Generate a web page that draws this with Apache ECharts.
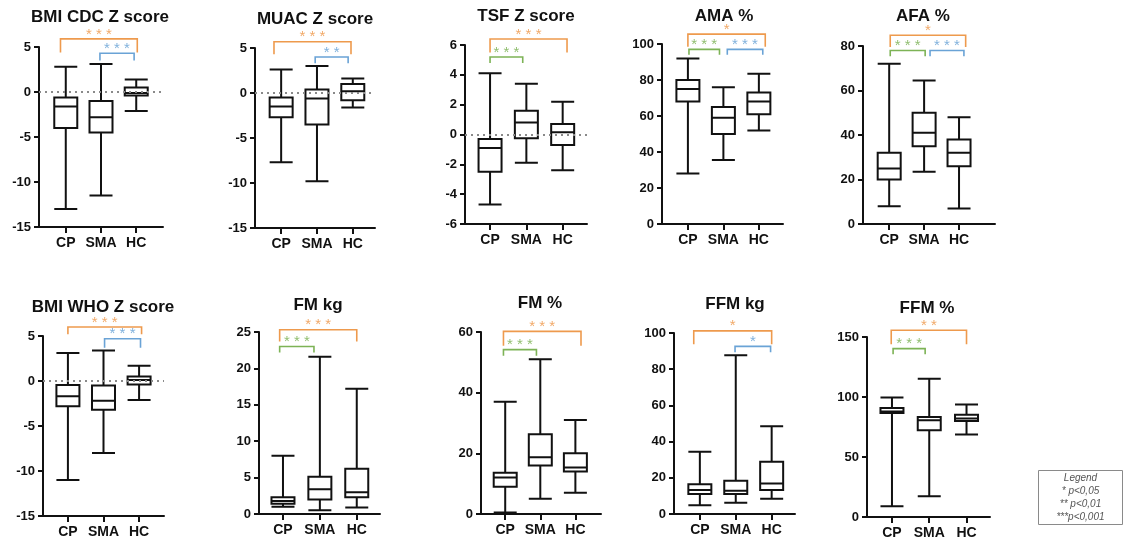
<!DOCTYPE html>
<html>
<head>
<meta charset="utf-8">
<script src="https://cdn.jsdelivr.net/npm/echarts@6/dist/echarts.min.js"></script>
<style>
html,body{margin:0;padding:0;background:#fff;}
#chart{width:1126px;height:541px;}
</style>
</head>
<body>
<div id="chart"></div>
<script>
// ---------- DATA ----------
const categories = ['CP', 'SMA', 'HC'];
const panelTitles = ['BMI CDC Z score', 'MUAC Z score', 'TSF Z score', 'AMA %', 'AFA %',
                     'BMI WHO Z score', 'FM kg', 'FM %', 'FFM kg', 'FFM %'];

// box statistics per group (CP, SMA, HC): [min, Q1, median, Q3, max]
const bmiCdc = [[-13.0, -4.0, -1.6, -0.6, 2.8], [-11.5, -4.5, -2.8, -1.0, 3.1], [-2.1, -0.4, -0.1, 0.5, 1.4]];
const muac   = [[-7.7, -2.7, -1.5, -0.5, 2.6], [-9.8, -3.5, -0.6, 0.4, 3.0], [-1.6, -0.8, 0.2, 1.0, 1.6]];
const tsf    = [[-4.7, -2.5, -0.9, -0.3, 4.1], [-1.9, -0.25, 0.8, 1.6, 3.4], [-2.4, -0.7, 0.15, 0.7, 2.2]];
const ama    = [[28, 68, 75, 80, 92], [35.5, 50, 59, 65, 76], [52, 61, 68, 73, 83.5]];
const afa    = [[8, 20, 25, 32, 72], [23.5, 35, 41, 50, 64.5], [7, 26, 32, 38, 48]];
const bmiWho = [[-11.0, -2.8, -1.7, -0.45, 3.1], [-8.0, -3.2, -2.2, -0.5, 3.4], [-2.1, -0.4, 0.1, 0.5, 1.7]];
const fmKg   = [[1.0, 1.4, 1.8, 2.3, 8.0], [0.5, 2.0, 3.4, 5.1, 21.6], [0.9, 2.3, 3.0, 6.2, 17.2]];
const fmPct  = [[0.5, 9.0, 12.0, 13.6, 37], [5, 16, 18.7, 26.3, 51], [7, 14, 15.3, 20, 31]];
const ffmKg  = [[4.8, 11.0, 13.2, 16.4, 34.4], [6.2, 11.0, 12.9, 18.4, 87.7], [8.4, 13.2, 16.9, 28.8, 48.5]];
const ffmPct = [[9, 86.7, 88, 90.8, 99.5], [17.3, 72.3, 80.6, 83.3, 115.3], [68.7, 80, 82, 85.3, 93.7]];
const panelData = [bmiCdc, muac, tsf, ama, afa, bmiWho, fmKg, fmPct, ffmKg, ffmPct];

// y-axis scales per panel: [min, max, interval]
const yScales = [[-15, 5, 5], [-15, 5, 5], [-6, 6, 2], [0, 100, 20], [0, 80, 20],
                 [-15, 5, 5], [0, 25, 5], [0, 60, 20], [0, 100, 20], [0, 150, 50]];
// panels with the dotted reference line at zero
const zeroLinePanels = [0, 1, 2, 5];

// significance comparisons per panel: [groupA, groupB, stars]
const significance = [
  [[0, 2, '***'], [1, 2, '***']],
  [[0, 2, '***'], [1, 2, '**']],
  [[0, 2, '***'], [0, 1, '***']],
  [[0, 2, '*'], [0, 1, '***'], [1, 2, '***']],
  [[0, 2, '*'], [0, 1, '***'], [1, 2, '***']],
  [[0, 2, '***'], [1, 2, '***']],
  [[0, 2, '***'], [0, 1, '***']],
  [[0, 2, '***'], [0, 1, '***']],
  [[0, 2, '*'], [1, 2, '*']],
  [[0, 2, '**'], [0, 1, '***']]
];
const legendLines = ['Legend', '* p<0,05', '** p<0,01', '***p<0,001'];

// ---------- LAYOUT ----------
// grid: [left, top, width, height, xMin, xMax]
const gridLayout = [
  [39, 47, 124, 180, -0.76, 2.76],
  [255, 48, 120, 180, -0.73, 2.62],
  [465, 45, 122, 179, -0.69, 2.67],
  [662, 44, 121, 180, -0.73, 2.68],
  [863, 46, 132, 178, -0.75, 3.03],
  [43, 336, 121, 180, -0.70, 2.70],
  [259, 332, 121, 182, -0.65, 2.63],
  [481, 332, 120, 182, -0.69, 2.73],
  [674, 333, 121, 181, -0.72, 2.65],
  [867, 337, 123, 180, -0.67, 2.63]
];
const titlePos = [[100, 17], [315, 19], [526, 16], [724, 16], [923, 16],
                  [103, 307], [318, 305], [540, 303], [735, 304], [927, 308]];
// bracket geometry per panel, same order as significance: [xFrom, xTo, yTop, yLeg] (axis units)
const bracketLayout = [
  [[-0.15, 2.03, 5.9, 4.4], [0.97, 1.94, 4.3, 3.5]],
  [[-0.2, 1.95, 5.7, 4.3], [0.95, 1.87, 4.0, 3.3]],
  [[0, 2.12, 6.4, 5.5], [0, 0.9, 5.2, 4.8]],
  [[0, 2.18, 105.5, 98.5], [0.03, 0.89, 97, 94], [1.11, 2.11, 97, 94]],
  [[0.03, 2.19, 84.8, 79.6], [0.03, 1.03, 78, 75.4], [1.17, 2.14, 78, 75.4]],
  [[0, 2.07, 6.0, 5.2], [1.03, 2.04, 4.7, 3.7]],
  [[-0.09, 2.0, 25.3, 23.7], [-0.09, 0.84, 23.0, 22.2]],
  [[-0.05, 2.16, 60.2, 55.5], [-0.05, 0.89, 54.2, 52.2]],
  [[-0.17, 2.0, 101.2, 93.8], [0.98, 1.97, 92.6, 89.3]],
  [[-0.02, 2.0, 155.6, 144], [0.03, 0.89, 140.3, 135.6]]
];

const INK = '#111';
const FONT = '"Liberation Sans", Arial, sans-serif';
function pairColor(a, b) {
  if (a === 0 && b === 2) return '#EE9A4D';
  if (a === 0 && b === 1) return '#7DB356';
  return '#6AA3D6';
}

const grids = [], xAxes = [], yAxes = [], titles = [], series = [];
panelData.forEach(function (stats, p) {
  const g = gridLayout[p];
  grids.push({ left: g[0], top: g[1], width: g[2], height: g[3], containLabel: false });
  xAxes.push({
    gridIndex: p, type: 'value', min: g[4], max: g[5],
    splitLine: { show: false },
    axisLine: { show: true, onZero: false, lineStyle: { color: INK, width: 2 } },
    axisTick: { show: true, customValues: [0, 1, 2], length: 6, lineStyle: { color: INK, width: 2 } },
    axisLabel: {
      show: true, customValues: [0, 1, 2], margin: 9,
      formatter: function (v) { return categories[Math.round(v)]; },
      color: INK, fontWeight: 'bold', fontSize: 14, fontFamily: FONT
    }
  });
  const ys = yScales[p];
  yAxes.push({
    gridIndex: p, type: 'value', min: ys[0], max: ys[1], interval: ys[2],
    splitLine: { show: false },
    axisLine: { show: true, onZero: false, lineStyle: { color: INK, width: 2 } },
    axisTick: { show: true, length: 5, lineStyle: { color: INK, width: 2 } },
    axisLabel: { margin: 8, color: INK, fontWeight: 'bold', fontSize: 13, fontFamily: FONT }
  });
  titles.push({
    text: panelTitles[p], left: titlePos[p][0], top: titlePos[p][1],
    textAlign: 'center', textVerticalAlign: 'middle', padding: 0,
    textStyle: { color: INK, fontWeight: 'bold', fontSize: 17, fontFamily: FONT }
  });

  const box = {
    type: 'boxplot', xAxisIndex: p, yAxisIndex: p,
    boxWidth: [23, 23],
    itemStyle: { color: 'rgba(0,0,0,0)', borderColor: INK, borderWidth: 2 },
    emphasis: { disabled: true },
    silent: true,
    data: stats.map(function (s, i) { return [i].concat(s); }),
    z: 3
  };
  if (zeroLinePanels.indexOf(p) >= 0) {
    box.markLine = {
      silent: true, symbol: 'none', label: { show: false },
      lineStyle: { type: [2, 4], color: '#8a8a8a', width: 2 },
      data: [{ yAxis: 0 }]
    };
  }
  series.push(box);

  const sig = significance[p];
  const brData = bracketLayout[p].map(function (b) { return b.slice(); });
  series.push({
    type: 'custom', xAxisIndex: p, yAxisIndex: p, clip: false, silent: true, z: 5,
    data: brData,
    renderItem: function (params, api) {
      const s = sig[params.dataIndex];
      const col = pairColor(s[0], s[1]);
      const x0 = api.value(0), x1 = api.value(1), yt = api.value(2), yl = api.value(3);
      const a = api.coord([x0, yl]), b = api.coord([x0, yt]);
      const c = api.coord([x1, yt]), d = api.coord([x1, yl]);
      return {
        type: 'group',
        children: [
          { type: 'polyline', shape: { points: [a, b, c, d] },
            style: { stroke: col, lineWidth: 1.6, fill: null } },
          { type: 'text',
            style: { text: s[2].split('').join(' '), x: (b[0] + c[0]) / 2, y: b[1] + 3,
                     align: 'center', verticalAlign: 'bottom', fill: col, opacity: 0.85,
                     font: '15px ' + FONT } }
        ]
      };
    }
  });
});

const legendChildren = [
  { type: 'rect', shape: { x: 0, y: 0, width: 84, height: 54 },
    style: { fill: '#fff', stroke: '#8a8a8a', lineWidth: 1 } }
];
legendLines.forEach(function (t, i) {
  legendChildren.push({
    type: 'text', x: 42, y: 8 + i * 12.8,
    style: { text: t, align: 'center', verticalAlign: 'middle', fill: '#555',
             font: 'italic 10px ' + FONT }
  });
});

const chart = echarts.init(document.getElementById('chart'), null, { renderer: 'canvas' });
chart.setOption({
  animation: false,
  backgroundColor: '#fff',
  title: titles,
  grid: grids,
  xAxis: xAxes,
  yAxis: yAxes,
  series: series,
  graphic: [{ type: 'group', left: 1038, top: 470, children: legendChildren }]
});
</script>
</body>
</html>
